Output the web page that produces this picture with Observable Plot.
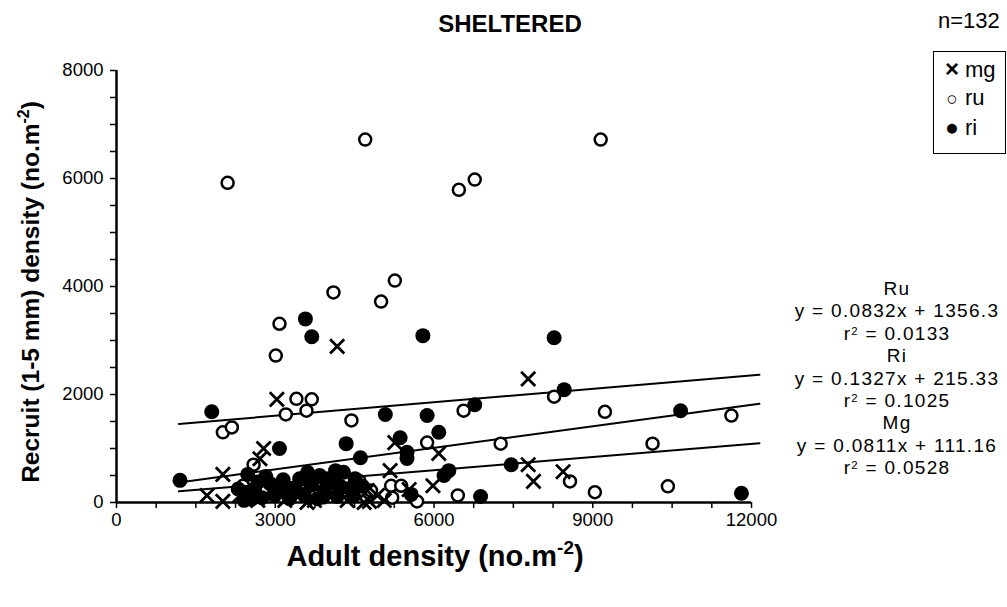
<!DOCTYPE html>
<html>
<head>
<meta charset="utf-8">
<script src="https://cdn.jsdelivr.net/npm/d3@7"></script>
<script src="https://cdn.jsdelivr.net/npm/@observablehq/plot@0.6"></script>
<style>
  html, body { margin: 0; padding: 0; background: white; }
  #wrap { position: relative; width: 1007px; height: 607px; font-family: "Liberation Sans", Arial, sans-serif; color: black; overflow: hidden; }
  #wrap svg { position: absolute; left: 0; top: 0; }
  .ov { position: absolute; white-space: nowrap; }
  sup { font-size: 0.65em; line-height: 0; position: relative; top: -0.05em; vertical-align: super; }
  #eqs div { height: 22.4px; line-height: 22.4px; }
  #eqs sup { font-size: 0.6em; vertical-align: baseline; top: -0.45em; }
</style>
</head>
<body>
<div id="wrap">
  <div class="ov" id="title" style="left:410px; width:200px; top:10px; text-align:center; font-weight:bold; font-size:24px;">SHELTERED</div>
  <div class="ov" style="left:938px; top:8px; font-size:22px;">n=132</div>
  <div class="ov" style="left:933px; top:51px; width:71px; height:101px; border:1px solid black;"></div>
  <div class="ov" id="legend" style="left:942px; top:55px; font-size:22px; line-height:28px;"></div>
  <div class="ov" id="eqs" style="left:787px; width:220px; top:278px; text-align:center; font-size:19px; letter-spacing:1.3px;"></div>
  <div class="ov" style="left:31px; top:292px; transform: translate(-50%, -50%) rotate(-90deg); font-weight:bold; font-size:24.5px;">Recruit (1-5 mm) density (no.m<sup>-2</sup>)</div>
  <div class="ov" style="left:435px; top:556px; transform: translate(-50%, -50%); font-weight:bold; font-size:29px;">Adult density (no.m<sup>-2</sup>)</div>
</div>
<script>
// ---- data ----
const ruX = [2100,4700,9150,6470,6770,4100,5260,5000,3080,3010,2010,2180,3400,3690,3200,3590,4440,2590,8270,6560,5870,7260,8570,5190,5380,5680,6450,5210,9230,11620,10130,9040,10420,2800,3460,4300,4810,4590,2390,4080];
const ruY = [5920,6720,6720,5790,5980,3890,4110,3720,3310,2720,1300,1390,1920,1910,1630,1700,1520,700,1960,1700,1110,1090,390,310,310,20,130,90,1680,1610,1090,190,300,220,310,220,220,400,310,370];

const riX = [3570,3690,5790,8270,1800,4340,3080,1200,2480,3610,8460,6770,5080,5870,5360,6090,5490,5490,4610,7460,6280,6190,6880,10660,11810,2430,2610,2750,2900,2990,3140,3270,3380,3550,3690,3800,3930,4080,4170,4290,4400,4510,4140,3990,2820,2410,3460,3840,2550,2680,3050,3320,3600,3900,4230,4480,2300,3150,4650,5570];
const riY = [3400,3070,3090,3050,1680,1090,1000,410,520,560,2090,1810,1630,1610,1200,1300,930,815,830,700,590,500,110,1700,170,190,260,90,350,130,220,70,260,130,320,70,220,370,110,560,260,440,590,440,480,40,440,500,60,380,280,160,420,100,300,120,250,420,300,150];

const mgX = [4170,3030,2780,2710,2010,1710,2010,7780,5260,6090,7780,7880,8440,5170,5980,5530,4780,5060,4930,4680,2330,2670,3180,3460,3740,4020,4360,2900,4740,3950,3600,3300];
const mgY = [2890,1910,1000,810,520,130,20,2290,1110,910,700,390,570,590,310,240,20,40,130,0,130,40,40,185,40,130,40,220,220,260,0,300];

const fitNames = ["Ru", "Ri", "Mg"];
const fitSlopes = [0.0832, 0.1327, 0.0811];
const fitIntercepts = [1356.3, 215.33, 111.16];
const fitR2 = ["0.0133", "0.1025", "0.0528"];
const fitRange = [1180, 12150];

const xTickLabels = [0, 3000, 6000, 9000, 12000];
const yTickLabels = [0, 2000, 4000, 6000, 8000];

const legendNames = ["mg", "ru", "ri"];
const legendGlyphs = ["\u00D7", "\u25CB", "\u25CF"];

// ---- build tables ----
const toRows = (xs, ys) => xs.map((x, i) => ({x, y: ys[i]}));
const ru = toRows(ruX, ruY);
const ri = toRows(riX, riY);
const mg = toRows(mgX, mgY);
const fitLines = fitNames.map((n, i) => fitRange.map(x => ({name: n, x, y: fitSlopes[i] * x + fitIntercepts[i]})));

const chart = Plot.plot({
  width: 1007,
  height: 607,
  marginLeft: 116,
  marginRight: 256,
  marginTop: 70,
  marginBottom: 105,
  x: {domain: [0, 12000]},
  y: {domain: [0, 8000]},
  style: {fontFamily: '"Liberation Sans", Arial, sans-serif', fontSize: "18.5px", color: "black", background: "transparent", overflow: "visible"},
  marks: [
    Plot.axisX({ticks: d3.range(0, 12001, 750), tickSize: 6, tickFormat: () => "", strokeWidth: 1.5, label: null}),
    Plot.axisX({ticks: xTickLabels, tickSize: 0, tickPadding: 10, label: null, tickFormat: d => String(d)}),
    Plot.axisY({ticks: d3.range(0, 8001, 500), tickSize: 6, tickFormat: () => "", strokeWidth: 1.5, label: null}),
    Plot.axisY({ticks: yTickLabels, tickSize: 0, tickPadding: 13, label: null, tickFormat: d => String(d)}),
    Plot.ruleX([0], {strokeWidth: 2.5}),
    Plot.ruleY([0], {strokeWidth: 2.5}),
    ...fitLines.map(l => Plot.line(l, {x: "x", y: "y", stroke: "black", strokeWidth: 2})),
    Plot.dot(ru, {x: "x", y: "y", r: 6, stroke: "black", strokeWidth: 2.5, fill: "white"}),
    Plot.dot(ri, {x: "x", y: "y", r: 7.5, fill: "black", stroke: "none"}),
    Plot.dot(mg, {x: "x", y: "y", symbol: "times", r: 6.5, stroke: "black", strokeWidth: 2.8})
  ]
});
document.getElementById("wrap").prepend(chart);

// legend
const leg = document.getElementById("legend");
legendNames.forEach((n, i) => {
  const row = document.createElement("div");
  const g = document.createElement("span");
  g.textContent = legendGlyphs[i];
  g.style.display = "inline-block";
  g.style.width = "20px";
  g.style.textAlign = "center";
  g.style.fontWeight = i === 0 ? "bold" : "normal";
  g.style.fontSize = i === 0 ? "24px" : (i === 1 ? "19px" : "23px");
  const t = document.createElement("span");
  t.textContent = n;
  t.style.marginLeft = "3px";
  row.appendChild(g);
  row.appendChild(t);
  leg.appendChild(row);
});

// equations
const eqs = document.getElementById("eqs");
fitNames.forEach((n, i) => {
  const sign = fitIntercepts[i] >= 0 ? "+" : "-";
  const a = document.createElement("div"); a.textContent = n; eqs.appendChild(a);
  const b = document.createElement("div"); b.textContent = `y = ${fitSlopes[i]}x ${sign} ${Math.abs(fitIntercepts[i])}`; eqs.appendChild(b);
  const c = document.createElement("div"); c.innerHTML = `r<sup>2</sup> = ${fitR2[i]}`; eqs.appendChild(c);
});
</script>
</body>
</html>
